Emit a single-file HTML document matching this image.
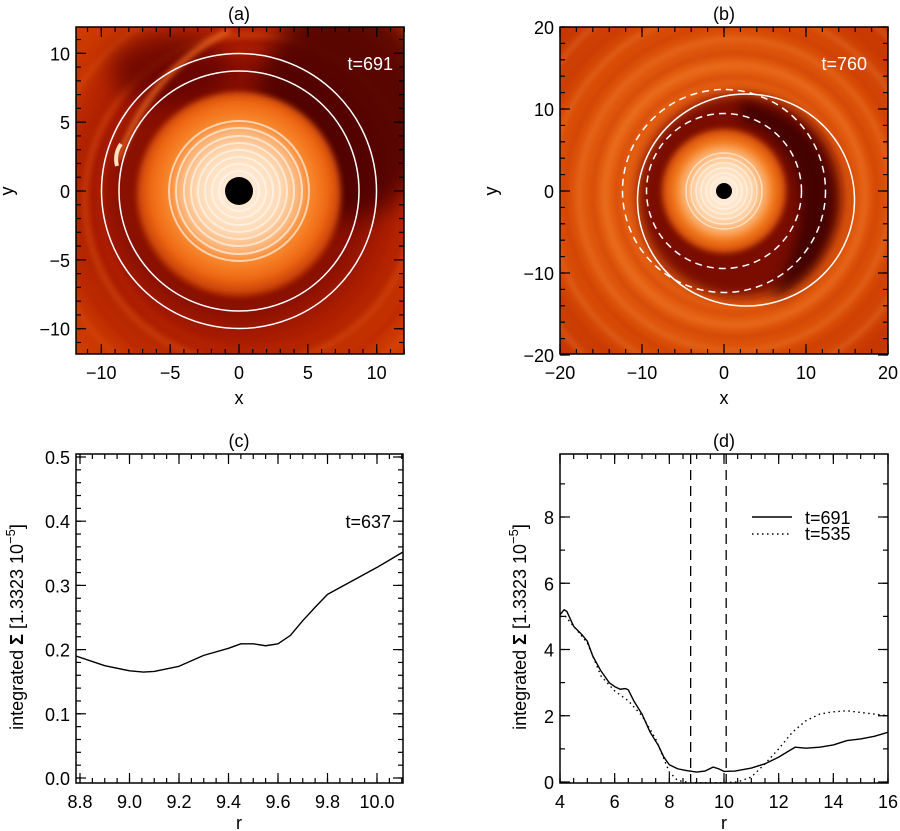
<!DOCTYPE html>
<html><head><meta charset="utf-8">
<style>
html,body{margin:0;padding:0;background:#fff;}
svg{display:block;font-family:"Liberation Sans",sans-serif;}
text{fill:#000;font-size:18px;}
</style></head>
<body>
<svg id="fig" width="900" height="831" viewBox="0 0 900 831" xmlns="http://www.w3.org/2000/svg">
<defs>
  <clipPath id="clipA"><rect x="76" y="27" width="328" height="327"/></clipPath>
  <clipPath id="clipB"><rect x="560" y="27" width="328" height="327"/></clipPath>
  <clipPath id="clipC"><rect x="76" y="454" width="327" height="329"/></clipPath>
  <clipPath id="clipD"><rect x="560" y="454" width="328" height="329"/></clipPath>
  <filter id="blur3" x="-50%" y="-50%" width="200%" height="200%"><feGaussianBlur stdDeviation="3"/></filter>
  <filter id="blur6" x="-50%" y="-50%" width="200%" height="200%"><feGaussianBlur stdDeviation="6"/></filter>
  <filter id="blur12" x="-50%" y="-50%" width="200%" height="200%"><feGaussianBlur stdDeviation="12"/></filter>
  <radialGradient id="gAout" cx="239" cy="191" r="240" gradientUnits="userSpaceOnUse">
    <stop offset="0" stop-color="#8a1000"/>
    <stop offset="0.5" stop-color="#8a1000"/>
    <stop offset="0.62" stop-color="#a81c00"/>
    <stop offset="0.8" stop-color="#c43200"/>
    <stop offset="1" stop-color="#d44000"/>
  </radialGradient>
  <radialGradient id="gAdisc" cx="239" cy="191" r="102" gradientUnits="userSpaceOnUse">
    <stop offset="0" stop-color="#fff2e6"/>
    <stop offset="0.4" stop-color="#ffdcb8"/>
    <stop offset="0.6" stop-color="#fcb070"/>
    <stop offset="0.68" stop-color="#f88a30"/>
    <stop offset="0.86" stop-color="#f06a14"/>
    <stop offset="1" stop-color="#c84006"/>
  </radialGradient>
  <radialGradient id="gBout" cx="724" cy="191" r="240" gradientUnits="userSpaceOnUse">
    <stop offset="0" stop-color="#e05810"/>
    <stop offset="0.5" stop-color="#e46010"/>
    <stop offset="0.7" stop-color="#d84c06"/>
    <stop offset="1" stop-color="#c03000"/>
  </radialGradient>
  <radialGradient id="gBdisc" cx="724" cy="191" r="60" gradientUnits="userSpaceOnUse">
    <stop offset="0" stop-color="#fff2e6"/>
    <stop offset="0.45" stop-color="#ffdcb8"/>
    <stop offset="0.7" stop-color="#fba860"/>
    <stop offset="0.8" stop-color="#f58020"/>
    <stop offset="1" stop-color="#d85008"/>
  </radialGradient>
</defs>
<g id="root"></g>
</svg>
<script>
// ---------- data ----------
const panelCR = [8.784, 8.9, 9.0, 9.056, 9.1, 9.2, 9.3, 9.4, 9.45, 9.5, 9.55, 9.6, 9.65, 9.7, 9.75, 9.8, 9.9, 10.0, 10.105];
const panelCSigma = [0.19, 0.175, 0.167, 0.165, 0.166, 0.174, 0.191, 0.202, 0.209, 0.209, 0.206, 0.209, 0.222, 0.245, 0.266, 0.286, 0.307, 0.328, 0.352];
const panelDR691 = [4.0, 4.15, 4.25, 4.5, 4.8, 5.0, 5.2, 5.5, 5.8, 6.0, 6.2, 6.4, 6.5, 6.7, 7.0, 7.3, 7.6, 7.8, 8.0, 8.3, 8.6, 9.0, 9.3, 9.6, 9.8, 10.0, 10.4, 11.0, 11.5, 12.0, 12.4, 12.6, 13.0, 13.5, 14.0, 14.5, 15.0, 15.5, 16.0];
const panelDSigma691 = [5.05, 5.2, 5.15, 4.7, 4.45, 4.25, 3.8, 3.35, 3.0, 2.88, 2.8, 2.82, 2.78, 2.45, 2.05, 1.5, 1.1, 0.75, 0.52, 0.4, 0.35, 0.3, 0.33, 0.45, 0.4, 0.32, 0.33, 0.42, 0.55, 0.75, 0.95, 1.05, 1.02, 1.05, 1.12, 1.25, 1.3, 1.38, 1.5];
const panelDR535 = [4.0, 4.2, 4.5, 5.0, 5.5, 6.0, 6.5, 7.0, 7.5, 7.8, 8.0, 8.3, 8.6, 9.0, 10.0, 10.5, 11.0, 11.5, 12.0, 12.5, 13.0, 13.5, 14.0, 14.5, 15.0, 15.5, 16.0];
const panelDSigma535 = [5.0, 5.0, 4.7, 4.2, 3.2, 2.75, 2.45, 2.0, 1.3, 0.7, 0.3, 0.05, 0.0, -0.02, -0.02, 0.0, 0.15, 0.55, 1.0, 1.5, 1.85, 2.05, 2.12, 2.15, 2.1, 2.05, 2.0];
const gapEdges = [8.78, 10.08];
const ticksC_x = [8.8, 9.0, 9.2, 9.4, 9.6, 9.8, 10.0];
const ticksC_xlabels = ["8.8","9.0","9.2","9.4","9.6","9.8","10.0"];
const ticksC_y = [0.0, 0.1, 0.2, 0.3, 0.4, 0.5];
const ticksC_ylabels = ["0.0","0.1","0.2","0.3","0.4","0.5"];
const ticksD_x = [4, 6, 8, 10, 12, 14, 16];
const ticksD_y = [0, 2, 4, 6, 8];
const ticksA = [-10, -5, 0, 5, 10];
const ticksB = [-20, -10, 0, 10, 20];

const NS = "http://www.w3.org/2000/svg";
const root = document.getElementById('root');
function el(tag, attrs, parent) {
  const e = document.createElementNS(NS, tag);
  for (const k in attrs) e.setAttribute(k, attrs[k]);
  (parent || root).appendChild(e);
  return e;
}
function txt(x, y, s, anchor, parent, extra) {
  const t = el('text', Object.assign({x: x, y: y, 'text-anchor': anchor || 'middle'}, extra || {}), parent);
  t.textContent = s;
  return t;
}
function makeScale(d0, d1, p0, p1) { return v => p0 + (v - d0) * (p1 - p0) / (d1 - d0); }

function axes(g, box, xs, ys, xdom, ydom, xMaj, xMin, yMaj, yMin) {
  const c = '#000';
  const [L, T, R, B] = box;
  function ticks(dom, step, len, isX) {
    const n0 = Math.ceil((dom[0] - 1e-9) / step), n1 = Math.floor((dom[1] + 1e-9) / step);
    for (let n = n0; n <= n1; n++) {
      const v = n * step;
      if (isX) {
        const x = xs(v);
        el('line', {x1: x, y1: B, x2: x, y2: B - len, stroke: c, 'stroke-width': 1.2}, g);
        el('line', {x1: x, y1: T, x2: x, y2: T + len, stroke: c, 'stroke-width': 1.2}, g);
      } else {
        const y = ys(v);
        el('line', {x1: L, y1: y, x2: L + len, y2: y, stroke: c, 'stroke-width': 1.2}, g);
        el('line', {x1: R, y1: y, x2: R - len, y2: y, stroke: c, 'stroke-width': 1.2}, g);
      }
    }
  }
  ticks(xdom, xMin, 5, true); ticks(xdom, xMaj, 10, true);
  ticks(ydom, yMin, 5, false); ticks(ydom, yMaj, 10, false);
  const fr = el('rect', {x: L, y: T, width: R - L, height: B - T, fill: 'none', stroke: '#000', 'stroke-width': 1.5}, g);
  
  
}
function tickLabels(g, box, xs, ys, xv, xlab, yv, ylab) {
  const [L, T, R, B] = box;
  const gx = el('g', {}, g);
  
  
  xv.forEach((v, i) => txt(xs(v), B + 25, xlab[i], 'middle', gx, {'font-size': 20}));
  const gy = el('g', {}, g);
  
  
  yv.forEach((v, i) => txt(L - 6, ys(v) + 7, ylab[i], 'end', gy, {'font-size': 20}));
}
function fmt(v) { return (v < 0 ? '\u2212' : '') + Math.abs(v); }
function linePath(xsArr, ysArr, xs, ys) {
  return xsArr.map((v, i) => (i ? 'L' : 'M') + xs(v).toFixed(2) + ',' + ys(ysArr[i]).toFixed(2)).join(' ');
}

// ---------- Panel A ----------
(function () {
  const g = el('g', {});
  
  
  const box = [76, 27, 404, 354];
  const xs = makeScale(0, 10, 239, 376.7), ys = makeScale(0, 10, 191, 53.3);
  const img = el('g', {'clip-path': 'url(#clipA)'}, g);
  
  
  el('rect', {x: 76, y: 27, width: 328, height: 327, fill: 'url(#gAout)'}, img);
  [150, 165, 185, 205].forEach((r, i) => el('circle', {cx: 250, cy: 200, r: r, fill: 'none', stroke: i % 2 ? '#d84a10' : '#b82400', 'stroke-width': 6, opacity: 0.6, filter: 'url(#blur3)'}, img));
  el('ellipse', {cx: 345, cy: 110, rx: 90, ry: 110, fill: '#4a0000', opacity: 0.85, filter: 'url(#blur12)'}, img);
  el('ellipse', {cx: 170, cy: 70, rx: 60, ry: 35, fill: '#5a0400', opacity: 0.7, filter: 'url(#blur12)'}, img);
  el('path', {d: 'M118,160 Q150,70 230,30', stroke: '#e86420', 'stroke-width': 5, fill: 'none', filter: 'url(#blur3)'}, img);
  el('circle', {cx: 239, cy: 194, r: 102, fill: 'url(#gAdisc)', filter: 'url(#blur3)'}, img);
  [20, 27, 34, 41, 48, 55, 63, 70].forEach(r => el('circle', {cx: 239, cy: 191, r: r, fill: 'none', stroke: '#fff8f0', 'stroke-width': 2, opacity: 0.65}, img));
  el('path', {d: 'M117,166 q-3,-12 4,-22', stroke: '#ffe0c0', 'stroke-width': 4, fill: 'none'}, img);
  el('circle', {cx: 239, cy: 191, r: 14, fill: '#000'}, img);
  const c1 = el('circle', {cx: 239, cy: 191, r: 137.5, fill: 'none', stroke: '#fff', 'stroke-width': 1.5}, img);
  
  
  const c2 = el('circle', {cx: 239, cy: 191, r: 120, fill: 'none', stroke: '#fff', 'stroke-width': 1.5}, img);
  
  
  axes(g, box, xs, ys, [-11.9, 12], [-11.9, 11.9], 5, 1, 5, 1);
  tickLabels(g, box, xs, ys, ticksA, ticksA.map(fmt), ticksA, ticksA.map(fmt));
  const t = txt(393, 70, 't=691', 'end', g, {style: 'fill:#fff', 'font-size': 19});
  
  
  const ti = txt(239, 20, '(a)', 'middle', g, {'font-size': 21});
  
  
  const xl = txt(239, 404, 'x', 'middle', g, {'font-size': 19});
  
  
  const yl = txt(0, 0, 'y', 'middle', g, {'font-size': 19, transform: 'translate(13,191) rotate(-90)'});
  
  
})();

// ---------- Panel B ----------
(function () {
  const g = el('g', {});
  
  
  const box = [560, 27, 888, 354];
  const xs = makeScale(0, 20, 724, 888), ys = makeScale(0, 20, 191, 27);
  const img = el('g', {'clip-path': 'url(#clipB)'}, g);
  
  
  el('rect', {x: 560, y: 27, width: 328, height: 327, fill: 'url(#gBout)'}, img);
  [118, 130, 142, 156, 170, 186, 202, 220].forEach((r, i) => el('circle', {cx: 735, cy: 195, r: r, fill: 'none', stroke: i % 2 ? '#f58a40' : '#c02c00', 'stroke-width': 4, opacity: 0.45, filter: 'url(#blur3)'}, img));
  el('circle', {cx: 740, cy: 196, r: 102, fill: '#7a0c00', filter: 'url(#blur6)'}, img);
  el('path', {d: 'M740,100 Q835,120 835,210 Q825,280 770,300 Q805,240 800,190 Q790,135 740,120 Z', fill: '#3a0000', opacity: 0.85, filter: 'url(#blur6)'}, img);
  el('circle', {cx: 724, cy: 191, r: 62, fill: 'url(#gBdisc)', filter: 'url(#blur3)'}, img);
  [13, 18, 23, 28, 33, 38].forEach(r => el('circle', {cx: 724, cy: 191, r: r, fill: 'none', stroke: '#fff8f0', 'stroke-width': 1.5, opacity: 0.6}, img));
  el('circle', {cx: 724, cy: 191, r: 8, fill: '#000'}, img);
  const s = el('ellipse', {cx: 746, cy: 200, rx: 108.5, ry: 106, fill: 'none', stroke: '#fff', 'stroke-width': 1.5}, img);
  
  
  const d1 = el('circle', {cx: 724, cy: 191, r: 101.5, fill: 'none', stroke: '#fff', 'stroke-width': 1.5, 'stroke-dasharray': '7,5'}, img);
  
  
  const d2 = el('circle', {cx: 724, cy: 191, r: 77.5, fill: 'none', stroke: '#fff', 'stroke-width': 1.5, 'stroke-dasharray': '7,5'}, img);
  
  
  axes(g, box, xs, ys, [-20, 20], [-20, 20], 10, 2, 10, 2);
  tickLabels(g, box, xs, ys, ticksB, ticksB.map(fmt), ticksB, ticksB.map(fmt));
  const t = txt(867, 70, 't=760', 'end', g, {style: 'fill:#fff', 'font-size': 19});
  
  
  const ti = txt(724, 20, '(b)', 'middle', g, {'font-size': 21});
  
  
  const xl = txt(724, 404, 'x', 'middle', g, {'font-size': 19});
  
  
  const yl = txt(0, 0, 'y', 'middle', g, {'font-size': 19, transform: 'translate(497,191) rotate(-90)'});
  
  
})();

function sigmaLabel(g, cx, cy) {
  const t = el('text', {x: 0, y: 0, 'text-anchor': 'middle', 'font-size': 19, transform: 'translate(' + cx + ',' + cy + ') rotate(-90)'}, g);
  
  
  t.appendChild(document.createTextNode('integrated '));
  const b = el('tspan', {'font-weight': 'bold'}, t); b.textContent = '\u03a3';
  t.appendChild(document.createTextNode(' [1.3323 10'));
  const sup = el('tspan', {dy: -8, 'font-size': 13}, t); sup.textContent = '\u22125';
  const cl = el('tspan', {dy: 8}, t); cl.textContent = ']';
}

// ---------- Panel C ----------
(function () {
  const g = el('g', {});
  
  
  const box = [76, 454, 403, 783];
  const xs = makeScale(8.8, 10.0, 80, 377), ys = makeScale(0, 0.5, 778, 457);
  const p = el('path', {d: linePath(panelCR, panelCSigma, xs, ys), fill: 'none', stroke: '#000', 'stroke-width': 1.4, 'stroke-linejoin': 'round', 'clip-path': 'url(#clipC)'}, g);
  
  
  axes(g, box, xs, ys, [8.784, 10.105], [-0.008, 0.505], 0.2, 0.05, 0.1, 0.02);
  tickLabels(g, box, xs, ys, ticksC_x, ticksC_xlabels, ticksC_y, ticksC_ylabels);
  const t = txt(391, 528, 't=637', 'end', g, {'font-size': 19});
  
  
  const ti = txt(239, 447, '(c)', 'middle', g, {'font-size': 21});
  
  
  const xl = txt(239, 829, 'r', 'middle', g, {'font-size': 19});
  
  
  sigmaLabel(g, 23, 627);
})();

// ---------- Panel D ----------
(function () {
  const g = el('g', {});
  
  
  const box = [560, 454, 888, 783];
  const xs = makeScale(4, 16, 560, 888), ys = makeScale(0, 8, 782, 517);
  gapEdges.forEach(v => {
    const l = el('line', {x1: xs(v), y1: 454, x2: xs(v), y2: 783, stroke: '#000', 'stroke-width': 1.3, 'stroke-dasharray': '10,6'}, g);
    
    
  });
  const p1 = el('path', {d: linePath(panelDR691, panelDSigma691, xs, ys), fill: 'none', stroke: '#000', 'stroke-width': 1.4, 'stroke-linejoin': 'round', 'clip-path': 'url(#clipD)'}, g);
  
  
  const p2 = el('path', {d: linePath(panelDR535, panelDSigma535, xs, ys), fill: 'none', stroke: '#000', 'stroke-width': 1.4, 'stroke-dasharray': '1.5,3.5', 'clip-path': 'url(#clipD)'}, g);
  
  
  axes(g, box, xs, ys, [4, 16], [-0.03, 9.9], 2, 0.5, 2, 1);
  tickLabels(g, box, xs, ys, ticksD_x, ticksD_x.map(String), ticksD_y, ticksD_y.map(String));
  const lg = el('g', {}, g);
  
  
  const e1 = el('g', {}, lg);
  
  
  el('line', {x1: 752, y1: 517, x2: 792, y2: 517, stroke: '#000', 'stroke-width': 1.4}, e1);
  txt(805, 524, 't=691', 'start', e1, {'font-size': 19});
  const e2 = el('g', {}, lg);
  
  
  el('line', {x1: 752, y1: 534, x2: 792, y2: 534, stroke: '#000', 'stroke-width': 1.4, 'stroke-dasharray': '1.5,3.5'}, e2);
  txt(805, 540, 't=535', 'start', e2, {'font-size': 19});
  const ti = txt(724, 447, '(d)', 'middle', g, {'font-size': 21});
  
  
  const xl = txt(724, 829, 'r', 'middle', g, {'font-size': 19});
  
  
  sigmaLabel(g, 526, 627);
})();
</script>
</body></html>
